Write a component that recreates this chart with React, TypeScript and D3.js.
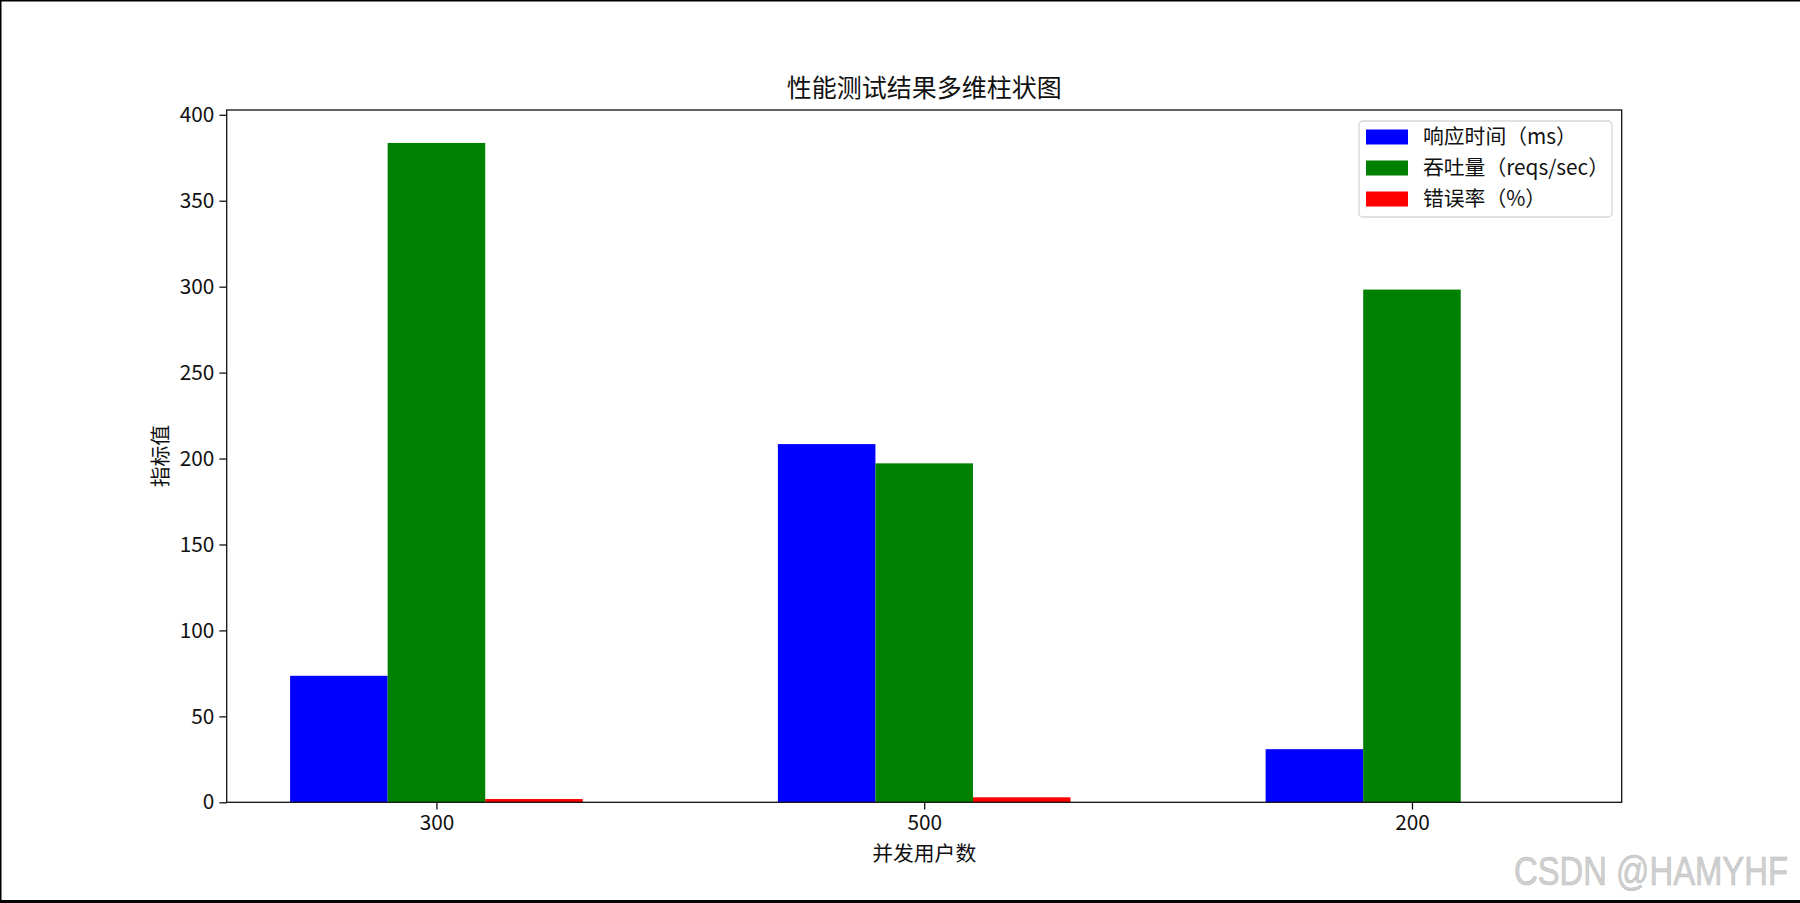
import { useRef, useEffect } from "react";
import * as d3 from "d3";

const categories = ["300", "500", "200"];
const seriesNames = ["响应时间（ms）", "吞吐量（reqs/sec）", "错误率（%）"];
const seriesColors = ["#0000ff", "#008000", "#ff0000"];
const responseTime = [73.6, 208.4, 30.9];
const throughput = [383.6, 197.2, 298.3];
const errorRate = [1.9, 2.9, 0];
const yTicks = [0, 50, 100, 150, 200, 250, 300, 350, 400];

const FONT = '"Noto Sans CJK SC", "Noto Sans", sans-serif';

export default function App() {
  const svgRef = useRef<SVGSVGElement>(null);

  useEffect(() => {
    document.body.style.margin = "0";
    if (!svgRef.current) return;

    const svg = d3.select(svgRef.current);
    svg.selectAll("*").remove();

    const width = 1800;
    const height = 903;
    const left = 226.7;
    const right = 1621.7;
    const top = 110;
    const bottom = 802.3;
    const barW = 0.2;

    const series = [responseTime, throughput, errorRate];

    svg.append("rect").attr("width", width).attr("height", height).attr("fill", "#fff");

    // x positions: category index, bars offset by -w, 0, +w (5% margins like matplotlib)
    const lo = -1.5 * barW;
    const hi = categories.length - 1 + 1.5 * barW;
    const pad = (hi - lo) * 0.05;
    const x = d3.scaleLinear().domain([lo - pad, hi + pad]).range([left, right]);

    const maxVal = d3.max(series.flat()) || 1;
    const y = d3.scaleLinear().domain([0, maxVal * 1.05]).range([bottom, top]);

    // Bars
    series.forEach((vals, si) => {
      svg.append("g")
        .selectAll("rect")
        .data(vals)
        .enter()
        .append("rect")
        .attr("x", (_, i) => x(i + (si - 1) * barW - barW / 2))
        .attr("y", (d) => y(d))
        .attr("width", x(barW) - x(0))
        .attr("height", (d) => bottom - y(d))
        .attr("fill", seriesColors[si]);
    });

    // Spines
    svg.append("rect")
      .attr("x", left)
      .attr("y", top)
      .attr("width", right - left)
      .attr("height", bottom - top)
      .attr("fill", "none")
      .attr("stroke", "#111")
      .attr("stroke-width", 1.3);

    // Y axis
    const yAxis = svg.append("g")
      .attr("transform", `translate(${left},0)`)
      .call(d3.axisLeft(y).tickValues(yTicks).tickSize(7.3).tickPadding(5));
    yAxis.select(".domain").remove();
    yAxis.selectAll("line").attr("stroke", "#111").attr("stroke-width", 1.3);
    yAxis.selectAll("text")
      .attr("fill", "#111")
      .attr("font-size", 20.8)
      .attr("font-family", FONT);

    // X axis
    const xAxis = svg.append("g")
      .attr("transform", `translate(0,${bottom})`)
      .call(
        d3.axisBottom(x)
          .tickValues(categories.map((_, i) => i))
          .tickFormat((d) => categories[d as number])
          .tickSize(7.3)
          .tickPadding(6)
      );
    xAxis.select(".domain").remove();
    xAxis.selectAll("line").attr("stroke", "#111").attr("stroke-width", 1.3);
    xAxis.selectAll("text")
      .attr("fill", "#111")
      .attr("font-size", 20.8)
      .attr("font-family", FONT);

    // Labels
    svg.append("text")
      .attr("x", (left + right) / 2)
      .attr("y", 88)
      .attr("dy", "0.35em")
      .attr("text-anchor", "middle")
      .attr("font-size", 25)
      .attr("font-family", FONT)
      .attr("fill", "#111")
      .text("性能测试结果多维柱状图");

    svg.append("text")
      .attr("x", (left + right) / 2)
      .attr("y", 854)
      .attr("dy", "0.35em")
      .attr("text-anchor", "middle")
      .attr("font-size", 20.8)
      .attr("font-family", FONT)
      .attr("fill", "#111")
      .text("并发用户数");

    svg.append("text")
      .attr("transform", `translate(161,${(top + bottom) / 2}) rotate(-90)`)
      .attr("dy", "0.35em")
      .attr("text-anchor", "middle")
      .attr("font-size", 20.8)
      .attr("font-family", FONT)
      .attr("fill", "#111")
      .text("指标值");

    // Legend
    const legend = svg.append("g").attr("transform", "translate(1359,121)");
    legend.append("rect")
      .attr("width", 253)
      .attr("height", 96)
      .attr("rx", 4)
      .attr("fill", "#fff")
      .attr("fill-opacity", 0.8)
      .attr("stroke", "#d6d6d6")
      .attr("stroke-width", 1.3);
    seriesNames.forEach((name, i) => {
      const cy = 16 + i * 31;
      legend.append("rect")
        .attr("x", 7)
        .attr("y", cy - 7.5)
        .attr("width", 42)
        .attr("height", 15)
        .attr("fill", seriesColors[i]);
      legend.append("text")
        .attr("x", 64)
        .attr("y", cy)
        .attr("dy", "0.35em")
        .attr("font-size", 20.8)
        .attr("font-family", FONT)
        .attr("fill", "#111")
        .text(name);
    });

    // Screenshot frame
    svg.append("line").attr("x1", 0).attr("x2", width).attr("y1", 0.75).attr("y2", 0.75)
      .attr("stroke", "#000").attr("stroke-width", 1.5);
    svg.append("line").attr("x1", 0.75).attr("x2", 0.75).attr("y1", 0).attr("y2", height)
      .attr("stroke", "#000").attr("stroke-width", 1.5);
    svg.append("line").attr("x1", 0).attr("x2", width).attr("y1", height - 1.5).attr("y2", height - 1.5)
      .attr("stroke", "#000").attr("stroke-width", 3);

    // Watermark
    svg.append("text")
      .attr("x", 1514)
      .attr("y", 885)
      .attr("font-size", 40)
      .attr("font-family", '"Liberation Sans", sans-serif')
      .attr("textLength", 274)
      .attr("lengthAdjust", "spacingAndGlyphs")
      .attr("fill", "#d0d0d0")
      .attr("stroke", "#bdbdbd")
      .attr("stroke-width", 0.6)
      .text("CSDN @HAMYHF");
  }, []);

  return <svg ref={svgRef} width={1800} height={903} style={{ display: "block" }} />;
}
